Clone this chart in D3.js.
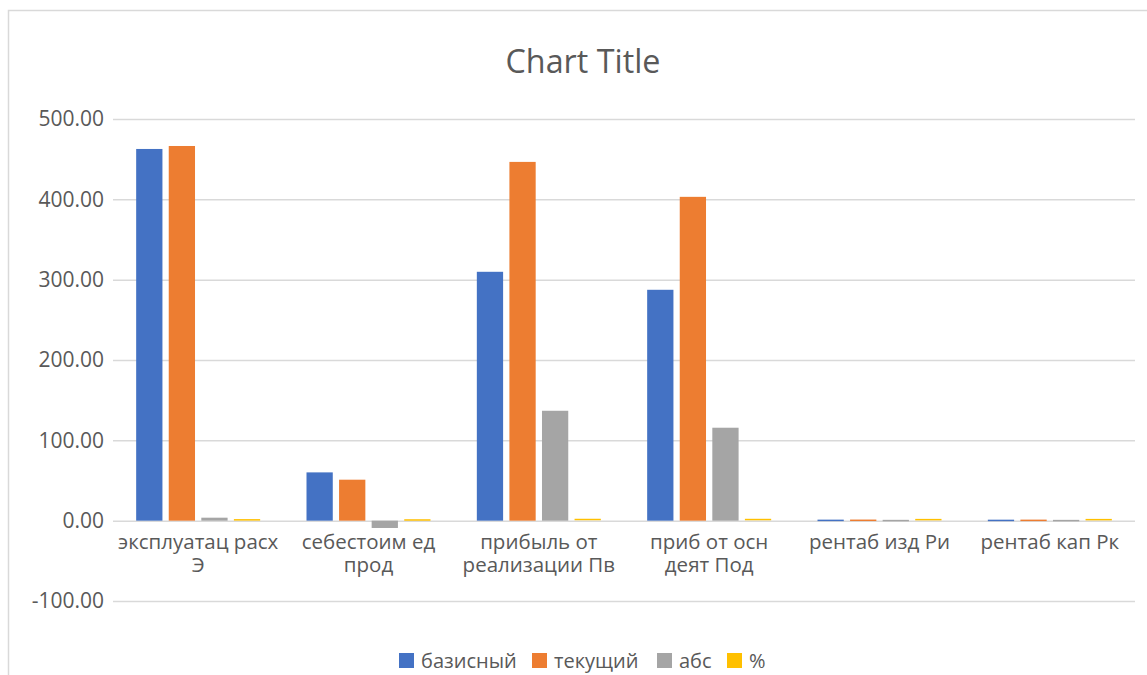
<!DOCTYPE html>
<html>
<head>
<meta charset="utf-8">
<script src="https://cdn.jsdelivr.net/npm/d3@7"></script>
<style>
  html, body { margin: 0; padding: 0; background: #fff; }
  svg { display: block; font-family: "Open Sans", "Noto Sans", sans-serif; }
</style>
</head>
<body>
<svg id="chart" width="1147" height="675"></svg>
<script>
// Indicators and series
const categories = [
  "эксплуатац расх Э",
  "себестоим ед прод",
  "прибыль от реализации Пв",
  "приб от осн деят Под",
  "рентаб изд Ри",
  "рентаб кап Рк"
];
// axis labels as they break over lines under each group
const categoryLabelLines = [
  ["эксплуатац расх", "Э"],
  ["себестоим ед", "прод"],
  ["прибыль от", "реализации Пв"],
  ["приб от осн", "деят Под"],
  ["рентаб изд Ри"],
  ["рентаб кап Рк"]
];
const seriesNames = ["базисный", "текущий", "абс", "%"];
const baseValues    = [462.7, 60.1, 309.8, 287.4, 0.35, 0.30];
const currentValues = [466.4, 51.0, 446.6, 403.1, 0.45, 0.38];
const absValues     = [3.7, -9.1, 136.8, 115.7, 0.10, 0.08];
const pctValues     = [1.01, 0.85, 1.44, 1.40, 1.29, 1.27];
const yTicks = [-100, 0, 100, 200, 300, 400, 500];
const colors = ["#4472C4", "#ED7D31", "#A5A5A5", "#FFC000"];

const seriesValues = [baseValues, currentValues, absValues, pctValues];

const svg = d3.select("#chart");
const W = 1147, H = 675;
const plot = { left: 113, right: 1135, top: 119, bottom: 601 };
const textColor = "#595959";
const gridColor = "#d9d9d9";

// chart frame
svg.append("rect")
  .attr("x", 8.5).attr("y", 10.5)
  .attr("width", W + 20).attr("height", H + 20)
  .attr("fill", "#fff").attr("stroke", gridColor).attr("stroke-width", 1.5);

// title
svg.append("text")
  .attr("x", 583).attr("y", 73)
  .attr("text-anchor", "middle")
  .attr("fill", textColor)
  .style("font-size", "32.3px")
  .text("Chart Title");

const y = d3.scaleLinear().domain([-100, 500]).range([plot.bottom, plot.top]);
const x0 = d3.scaleBand().domain(categories).range([plot.left, plot.right]).padding(0);
const barStep = 31;
const x1 = d3.scaleBand().domain(seriesNames)
  .range([-barStep * 2, barStep * 2]).paddingInner(6 / 31).paddingOuter(0);

// gridlines + y tick labels via axis
const fmt = d3.format(".2f");
const yAxis = d3.axisLeft(y).tickValues(yTicks)
  .tickFormat(d => fmt(d).replace("\u2212", "-"))
  .tickSize(-(plot.right - plot.left)).tickPadding(9);
const yg = svg.append("g").attr("transform", `translate(${plot.left},0)`).call(yAxis);
yg.select(".domain").remove();
yg.selectAll(".tick line").attr("stroke", gridColor).attr("stroke-width", 1.5);
yg.selectAll(".tick text")
  .attr("fill", textColor)
  .style("font-size", "21px")
  .style("font-family", "'Open Sans', sans-serif");

// bars, drawn over the gridlines; near-zero values still show as a thin line
const groups = svg.append("g").selectAll("g")
  .data(categories)
  .join("g")
  .attr("transform", d => `translate(${x0(d) + x0.bandwidth() / 2},0)`);

groups.selectAll("rect")
  .data((c, i) => seriesNames.map((s, k) => ({ s, k, v: seriesValues[k][i] })))
  .join("rect")
  .attr("x", d => x1(d.s))
  .attr("width", x1.bandwidth())
  .attr("y", d => Math.min(y(d.v), y(0)) - (Math.abs(y(d.v) - y(0)) < 1.5 ? 0.75 : 0))
  .attr("height", d => Math.max(Math.abs(y(d.v) - y(0)), 1.5))
  .attr("fill", d => colors[d.k]);

// category labels, one text per line
const labelG = svg.append("g").selectAll("g")
  .data(categories)
  .join("g")
  .attr("transform", d => `translate(${x0(d) + x0.bandwidth() / 2},${y(0) + 28})`);
labelG.selectAll("text")
  .data((d, i) => categoryLabelLines[i])
  .join("text")
  .attr("text-anchor", "middle")
  .attr("y", (d, j) => j * 23)
  .attr("fill", textColor)
  .style("font-size", "20.5px")
  .text(d => d);

// legend
const legendX = [399, 532, 657, 727];
const lg = svg.append("g").selectAll("g")
  .data(seriesNames)
  .join("g")
  .attr("transform", (d, i) => `translate(${legendX[i]},653)`);
lg.append("rect").attr("width", 15).attr("height", 15).attr("fill", (d, i) => colors[i]);
lg.append("text")
  .attr("x", 22).attr("y", 14.5)
  .attr("fill", textColor)
  .style("font-size", "20px")
  .text(d => d);
</script>
</body>
</html>
